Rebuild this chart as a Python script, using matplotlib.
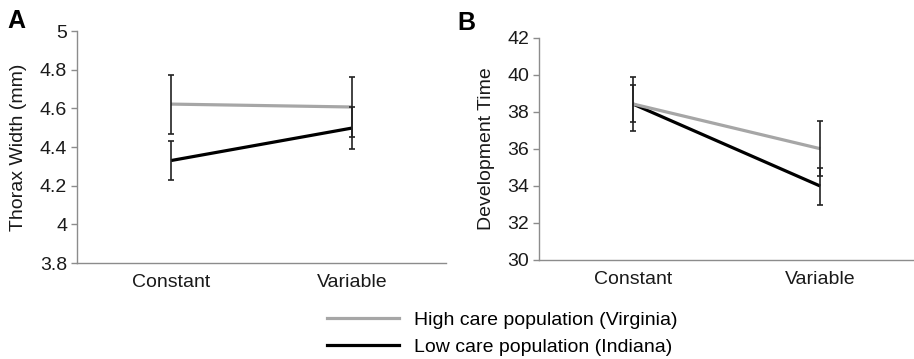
import matplotlib
matplotlib.use("Agg")
import matplotlib.pyplot as plt
import matplotlib.ticker as ticker

plt.rcParams["font.family"] = ["Liberation Sans", "DejaVu Sans"]

conditions = ["Constant", "Variable"]
series_labels = ["High care population (Virginia)", "Low care population (Indiana)"]

# Panel A: thorax width (mm)
thorax_high = [4.622, 4.607]
thorax_high_err = [0.153, 0.153]
thorax_low = [4.330, 4.498]
thorax_low_err = [0.102, 0.108]

# Panel B: development time
dev_high = [38.42, 36.0]
dev_high_err = [1.48, 1.5]
dev_low = [38.42, 33.98]
dev_low_err = [1.0, 1.0]

A_ticks = [3.8, 4.0, 4.2, 4.4, 4.6, 4.8, 5.0]
B_ticks = [30, 32, 34, 36, 38, 40, 42]

GRAY = "#a6a6a6"
BLACK = "#000000"
SPINE = "#8c8c8c"
TEXT = "#1a1a1a"
FS = 14

fig = plt.figure(figsize=(9.14, 3.59), dpi=100)
axA = fig.add_axes([0.0842, 0.2674, 0.4038, 0.6462])
axB = fig.add_axes([0.5897, 0.2766, 0.4103, 0.6184])


def draw_panel(ax, high, high_err, low, low_err, ticks, ylabel, xlim):
    x = list(range(len(conditions)))
    ax.plot(x, low, color=BLACK, linewidth=2.3, solid_capstyle="butt", zorder=2)
    ax.plot(x, high, color=GRAY, linewidth=2.3, solid_capstyle="butt", zorder=3)
    for vals, errs in ((high, high_err), (low, low_err)):
        ax.errorbar(x, vals, yerr=errs, fmt="none", ecolor="#222222",
                    elinewidth=1.2, capsize=2.5, capthick=1.2, zorder=4)
    ax.set_xlim(*xlim)
    ax.set_ylim(ticks[0], ticks[-1])
    ax.set_yticks(ticks)
    ax.yaxis.set_major_formatter(ticker.FormatStrFormatter("%g"))
    ax.set_xticks(x)
    ax.set_xticklabels(conditions)
    ax.tick_params(axis="x", length=0, pad=8, labelsize=FS, labelcolor=TEXT)
    ax.tick_params(axis="y", length=4, width=1, color=SPINE, pad=3,
                   labelsize=FS, labelcolor=TEXT)
    for side in ("top", "right"):
        ax.spines[side].set_visible(False)
    for side in ("left", "bottom"):
        ax.spines[side].set_color(SPINE)
        ax.spines[side].set_linewidth(1.0)
    ax.set_ylabel(ylabel, fontsize=FS, color=TEXT, labelpad=9)


draw_panel(axA, thorax_high, thorax_high_err, thorax_low, thorax_low_err,
           A_ticks, "Thorax Width (mm)", (-0.52, 1.52))
draw_panel(axB, dev_high, dev_high_err, dev_low, dev_low_err,
           B_ticks, "Development Time", (-0.5, 1.5))

fig.text(0.008, 0.975, "A", fontsize=18, fontweight="bold", va="top", ha="left")
fig.text(0.500, 0.968, "B", fontsize=18, fontweight="bold", va="top", ha="left")

h1, = axA.plot([], [], color=GRAY, linewidth=2.3)
h2, = axA.plot([], [], color=BLACK, linewidth=2.3)
fig.legend([h1, h2], series_labels, loc="upper left",
           bbox_to_anchor=(327 / 914, 1 - 311 / 359), frameon=False,
           fontsize=FS, handlelength=3.7, handletextpad=0.8,
           labelspacing=0.5, borderpad=0, borderaxespad=0)

fig.savefig("out.png", dpi=100)
